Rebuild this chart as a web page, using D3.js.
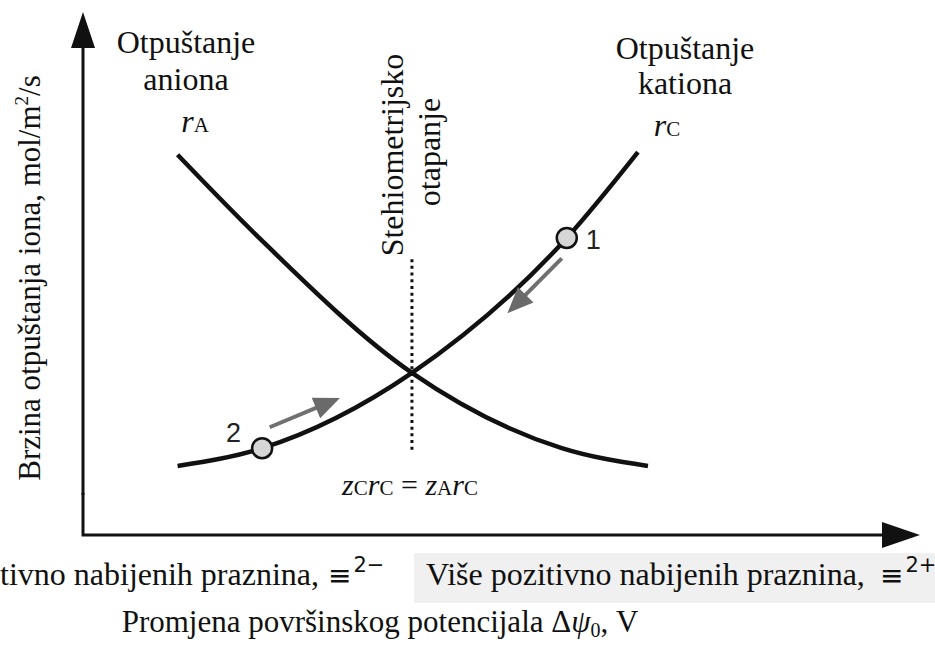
<!DOCTYPE html>
<html><head><meta charset="utf-8">
<script src="https://cdn.jsdelivr.net/npm/d3@7"></script>
<style>
html,body{margin:0;padding:0;background:#fff;}
svg{display:block;}
.sr{font-family:"Liberation Serif","Times New Roman",Tinos,serif;}
</style></head>
<body>
<svg id="chart" width="935" height="651"></svg>
<script>
// ---- data (abstract units: x 0..10, y 0..10) ----
const rCx = [1.13, 2.14, 3.93, 5.78, 6.63];
const rCy = [1.32, 1.66, 3.10, 5.68, 7.32];
const rAx = [1.13, 2.08, 3.93, 5.72, 6.75];
const rAy = [7.27, 5.72, 3.10, 1.66, 1.32];
const pointLabels = ["1", "2"];
const pointX = [5.78, 2.14];
const pointY = [5.68, 1.66];
const arrowX0 = [5.72, 2.23], arrowY0 = [5.29, 2.06];
const arrowX1 = [5.07, 3.07], arrowY1 = [4.24, 2.62];
const stoichX = 3.93, stoichY = [1.63, 5.30];

const svg = d3.select("#chart");
const x = d3.scaleLinear().domain([0, 10]).range([83, 920]);
const y = d3.scaleLinear().domain([0, 10]).range([535, 12]);

// bottom grey box
svg.append("rect").attr("x", 414).attr("y", 553).attr("width", 521).attr("height", 50).attr("fill", "#f0f0f0");

// axes
const ax = svg.append("g");
ax.append("path").attr("d", `M${x(0)},${y(0)-42} L${x(0)},${y(0)} L${x(10)-36},${y(0)}`)
  .attr("fill", "none").attr("stroke", "#111").attr("stroke-width", 3);
ax.append("path").attr("d", `M${x(0)},${y(10)} L${x(0)-12},${y(10)+36} L${x(0)+12},${y(10)+36} Z`).attr("fill", "#111");
ax.append("path").attr("d", `M${x(10)},${y(0)} L${x(10)-38},${y(0)-13} L${x(10)-38},${y(0)+13} Z`).attr("fill", "#111");
ax.append("path").attr("d", `M${x(0)},${y(10)+30} L${x(0)},${y(0)-40}`).attr("stroke", "#111").attr("stroke-width", 3);

// dotted stoichiometric line
svg.append("line").attr("x1", x(stoichX)).attr("x2", x(stoichX))
  .attr("y1", y(stoichY[0])).attr("y2", y(stoichY[1]))
  .attr("stroke", "#111").attr("stroke-width", 3).attr("stroke-dasharray", "3,3.7");

// curves
const line = d3.line().x(d => x(d[0])).y(d => y(d[1])).curve(d3.curveMonotoneX);
svg.append("path").attr("d", line(rCx.map((v, i) => [v, rCy[i]])))
  .attr("fill", "none").attr("stroke", "#111").attr("stroke-width", 4.5);
svg.append("path").attr("d", line(rAx.map((v, i) => [v, rAy[i]])))
  .attr("fill", "none").attr("stroke", "#111").attr("stroke-width", 4.5);

// grey arrows
pointLabels.forEach((_, i) => {
  const x0 = x(arrowX0[i]), y0 = y(arrowY0[i]), x1 = x(arrowX1[i]), y1 = y(arrowY1[i]);
  const dx = x1 - x0, dy = y1 - y0, L = Math.hypot(dx, dy), ux = dx / L, uy = dy / L;
  const hl = 26, hw = 11;
  const bx = x1 - ux * hl, by = y1 - uy * hl;
  svg.append("line").attr("x1", x0).attr("y1", y0).attr("x2", bx + ux * 2).attr("y2", by + uy * 2)
    .attr("stroke", "#707070").attr("stroke-width", 4);
  svg.append("path").attr("d", `M${x1},${y1} L${bx - uy * hw},${by + ux * hw} L${bx + uy * hw},${by - ux * hw} Z`)
    .attr("fill", "#6a6a6a");
});

// points
svg.selectAll("circle.pt").data(pointLabels).join("circle").attr("class", "pt")
  .attr("cx", (d, i) => x(pointX[i])).attr("cy", (d, i) => y(pointY[i])).attr("r", 10)
  .attr("fill", "#d6d6d6").attr("stroke", "#111").attr("stroke-width", 2.5);
const labOff = [[19, 11], [-36, -6]];
svg.selectAll("text.pl").data(pointLabels).join("text").attr("class", "pl")
  .attr("x", (d, i) => x(pointX[i]) + labOff[i][0]).attr("y", (d, i) => y(pointY[i]) + labOff[i][1])
  .attr("font-family", "Liberation Sans, Arial, sans-serif").attr("font-size", 27).attr("fill", "#222")
  .text(d => d);

// text helper
function txt(tx, ty, s, opts = {}) {
  const t = svg.append("text").attr("class", "sr").attr("x", tx).attr("y", ty)
    .attr("font-size", opts.size || 32).attr("fill", "#111").attr("text-anchor", opts.anchor || "middle");
  if (opts.rotate) t.attr("transform", `rotate(-90,${tx},${ty})`);
  if (opts.f) t.style("font-family", opts.f);
  if (typeof s === "string") t.text(s);
  else s.forEach(p => {
    const ts = t.append("tspan").text(p.t);
    if (p.i) ts.attr("font-style", "italic");
    if (p.s) ts.attr("font-size", p.s);
    if (p.dy) ts.attr("dy", p.dy);
    if (p.dx) ts.attr("dx", p.dx);
  });
  return t;
}

txt(186, 53, "Otpuštanje");
txt(186, 90, "aniona");
txt(195, 132, [{t: "r", i: 1}, {t: "A", s: 21}]);
txt(685, 59, "Otpuštanje");
txt(685, 94, "kationa");
txt(667, 136, [{t: "r", i: 1}, {t: "C", s: 21}]);

txt(403, 155, "Stehiometrijsko", {rotate: 1});
txt(440, 152, "otapanje", {rotate: 1});

txt(410, 495, [{t: "z", i: 1}, {t: "C", s: 21}, {t: "r", i: 1}, {t: "C", s: 21}, {t: " = "},
  {t: "z", i: 1}, {t: "A", s: 21}, {t: "r", i: 1}, {t: "C", s: 21}], {size: 30});

txt(40, 278, [{t: "Brzina otpuštanja iona, mol/m"}, {t: "2", s: 19, dy: -12}, {t: "/s", dy: 12}], {rotate: 1, size: 31});

const math = "DejaVu Sans, sans-serif";
txt(0, 585, "tivno nabijenih praznina,", {anchor: "start"});
txt(328, 585, [{t: "≡", s: 28}, {t: "2−", s: 21, dy: -13, dx: 2}], {anchor: "start", f: math});
txt(426, 585, "Više pozitivno nabijenih praznina,", {anchor: "start"});
txt(880, 585, [{t: "≡", s: 28}, {t: "2+", s: 21, dy: -13, dx: 2}], {anchor: "start", f: math});

txt(380, 632, [{t: "Promjena površinskog potencijala Δ"}, {t: "ψ", i: 1}, {t: "0", s: 20, dy: 5}, {t: ", V", dy: -5}], {size: 31});
</script>
</body></html>
